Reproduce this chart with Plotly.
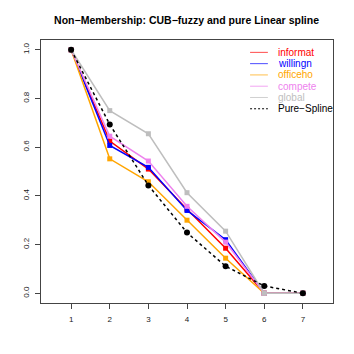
import plotly.graph_objects as go

# score positions
x_pts = [1, 2, 3, 4, 5, 6, 7]

# non-membership values per item (CUB-fuzzy)
informat = [1.0, 0.625, 0.510, 0.345, 0.185, 0.0, 0.0]
willingn = [1.0, 0.607, 0.517, 0.340, 0.220, 0.0, 0.0]
officeho = [1.0, 0.552, 0.458, 0.300, 0.144, 0.0, 0.0]
compete = [1.0, 0.645, 0.543, 0.357, 0.210, 0.0, 0.0]
global_ = [1.0, 0.750, 0.655, 0.413, 0.255, 0.0, 0.0]
# pure linear spline
pure_spline = [1.0, 0.693, 0.443, 0.249, 0.111, 0.030, 0.0]

series = [
    ("informat", informat, "#FF0000"),
    ("willingn", willingn, "#0000FF"),
    ("officeho", officeho, "#FFA500"),
    ("compete", compete, "#EE82EE"),
    ("global", global_, "#BEBEBE"),
]

FONT = "Liberation Sans, Arial, sans-serif"

fig = go.Figure()

for name, vals, col in series:
    fig.add_trace(go.Scatter(
        x=x_pts, y=vals, mode="lines+markers", name=name,
        line=dict(color=col, width=1.5),
        marker=dict(symbol="square", size=5, color=col),
        showlegend=False,
    ))

fig.add_trace(go.Scatter(
    x=x_pts, y=pure_spline, mode="lines+markers", name="Pure-Spline",
    line=dict(color="black", width=1.5, dash="3px,3px"),
    marker=dict(symbol="circle", size=6, color="black"),
    showlegend=False,
))

# legend drawn by hand (R style, top right inside the box)
leg_items = [(n, c) for n, _, c in series] + [("Pure\u2212Spline", "black")]
shapes = []
annotations = []
y0 = 0.953
step = 0.0429
for i, (name, col) in enumerate(leg_items):
    yy = y0 - i * step
    shapes.append(dict(
        type="line", xref="paper", yref="paper",
        x0=0.716, x1=0.777, y0=yy, y1=yy,
        line=dict(color=col, width=1, dash="2px,2px" if col == "black" else "solid"),
        opacity=1 if col == "black" else 0.7,
    ))
    annotations.append(dict(
        xref="paper", yref="paper", x=0.805, y=yy, text=name,
        showarrow=False, xanchor="left", yanchor="middle",
        font=dict(family=FONT, size=10, color=col),
    ))

# the page adds an 8px body margin, so the figure is 8px smaller
fig.update_layout(
    width=346, height=346,
    margin=dict(l=33, r=21, t=32, b=51, autoexpand=False),
    paper_bgcolor="white", plot_bgcolor="white",
    title=dict(
        text="<b>Non\u2212Membership: CUB\u2212fuzzy and pure Linear spline</b>",
        x=0.516, xanchor="center", y=0.965, yanchor="middle",
        font=dict(family=FONT, size=10.5, color="black"),
    ),
    shapes=shapes,
    annotations=annotations,
    showlegend=False,
)

fig.update_xaxes(
    range=[0.22, 7.78], tickvals=x_pts, ticktext=[str(v) for v in x_pts],
    showgrid=False, zeroline=False, automargin=False,
    showline=True, mirror=True, linecolor="#444", linewidth=1,
    ticks="outside", ticklen=5, tickcolor="#444", ticklabelstandoff=3,
    tickfont=dict(family=FONT, size=8, color="#222"),
)
fig.update_yaxes(
    range=[-0.04, 1.04], tickvals=[0, 0.2, 0.4, 0.6, 0.8, 1.0],
    ticktext=["0.0", "0.2", "0.4", "0.6", "0.8", "1.0"], tickangle=-90,
    showgrid=False, zeroline=False, automargin=False,
    showline=True, mirror=True, linecolor="#444", linewidth=1,
    ticks="outside", ticklen=5, tickcolor="#444", ticklabelstandoff=3,
    tickfont=dict(family=FONT, size=8, color="#222"),
)

fig.write_html("out.html")
